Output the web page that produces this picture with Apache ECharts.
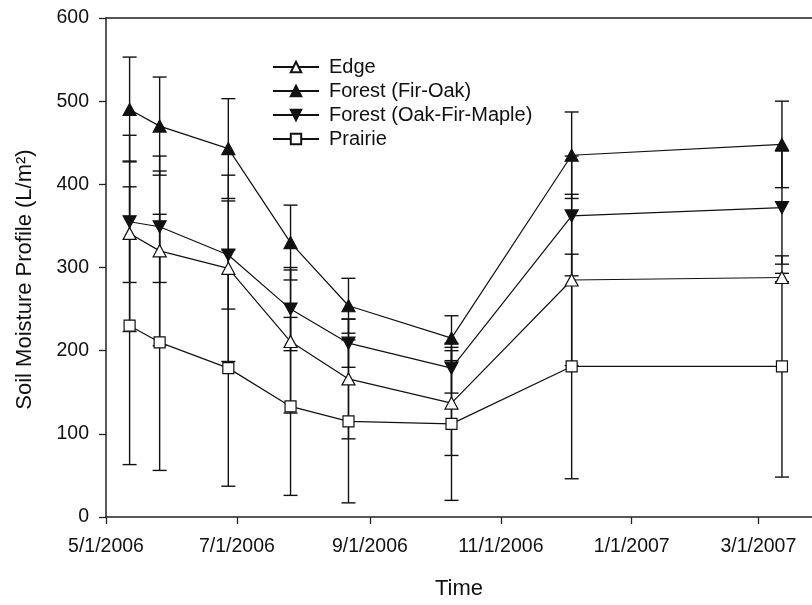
<!DOCTYPE html>
<html>
<head>
<meta charset="utf-8">
<script src="https://cdn.jsdelivr.net/npm/echarts@6/dist/echarts.min.js"></script>
<style>
  html, body { margin: 0; padding: 0; background: #fff; overflow: hidden; }
  #chart { width: 812px; height: 605px; }
</style>
</head>
<body>
<div id="chart"></div>
<script>
// Sampling dates
const sampleDates = ['2006-05-12', '2006-05-26', '2006-06-27', '2006-07-26',
                     '2006-08-22', '2006-10-09', '2006-12-04', '2007-03-12'];

// Mean soil moisture profile (L/m2) and standard deviations per stand type
const edgeMean       = [341, 320, 299, 211, 166, 137, 285, 288];
const edgeSd         = [118, 114, 112,  86,  72,  63, 103,   5];
const firOakMean     = [490, 470, 443, 330, 254, 215, 435, 448];
const firOakSd       = [ 63,  59,  60,  45,  33,  27,  52,  52];
const oakFirMapleMean = [355, 349, 315, 250, 209, 179, 362, 372];
const oakFirMapleSd   = [ 73,  67,  65,  50,  29,  30,  72,  68];
const prairieMean    = [230, 210, 179, 133, 115, 112, 181, 181];
const prairieSd      = [167, 154, 142, 107,  98,  92, 135, 133];

// Axis ticks
const xTickDates = ['2006-05-01', '2006-07-01', '2006-09-01', '2006-11-01', '2007-01-01', '2007-03-01'];
const xRange = ['2006-05-01', '2007-03-26'];
const yTicks = [0, 100, 200, 300, 400, 500, 600];

const seriesNames = ['Edge', 'Forest (Fir-Oak)', 'Forest (Oak-Fir-Maple)', 'Prairie'];

function toTime(s) {
  const p = s.split('-').map(Number);
  return new Date(p[0], p[1] - 1, p[2]).getTime();
}
function fmtDate(t) {
  const d = new Date(t);
  return (d.getMonth() + 1) + '/' + d.getDate() + '/' + d.getFullYear();
}

const times = sampleDates.map(toTime);
const tickTimes = xTickDates.map(toTime);

function pairs(vals) { return vals.map((v, i) => [times[i], v]); }
function errData(vals, sds) { return vals.map((v, i) => [times[i], v - sds[i], v + sds[i]]); }

const FONT = 'Liberation Sans, Arial, sans-serif';
const INK = '#111';

function errorBars(name, vals, sds) {
  return {
    type: 'custom',
    name: name + ' sd',
    z: 1,
    silent: true,
    data: errData(vals, sds),
    encode: { x: 0, y: [1, 2] },
    renderItem: function (params, api) {
      const lo = api.coord([api.value(0), api.value(1)]);
      const hi = api.coord([api.value(0), api.value(2)]);
      const hw = 7;
      const st = { stroke: INK, lineWidth: 1.4, fill: null };
      return {
        type: 'group',
        children: [
          { type: 'line', shape: { x1: lo[0], y1: lo[1], x2: hi[0], y2: hi[1] }, style: st },
          { type: 'line', shape: { x1: lo[0] - hw, y1: lo[1], x2: lo[0] + hw, y2: lo[1] }, style: st },
          { type: 'line', shape: { x1: hi[0] - hw, y1: hi[1], x2: hi[0] + hw, y2: hi[1] }, style: st }
        ]
      };
    }
  };
}

function lineSeries(name, vals, symbol, size, fill) {
  return {
    type: 'line',
    name: name,
    z: 3,
    data: pairs(vals),
    symbol: symbol,
    symbolSize: size,
    showAllSymbol: true,
    lineStyle: { color: INK, width: 1.2 },
    itemStyle: { color: fill, borderColor: INK, borderWidth: 1.2 },
    emphasis: { disabled: true },
    animation: false
  };
}

const downTriangle = 'path://M0,0 L12,0 L6,11 Z';

const chart = echarts.init(document.getElementById('chart'), null, { renderer: 'canvas', width: 812, height: 605 });
chart.setOption({
  animation: false,
  backgroundColor: '#fff',
  grid: { left: 106, width: 706, top: 18, height: 502, containLabel: false },
  legend: {
    orient: 'vertical',
    left: 267,
    top: 52,
    itemWidth: 46,
    itemHeight: 13,
    itemGap: 4,
    data: seriesNames,
    textStyle: { fontFamily: FONT, fontSize: 20, color: INK, padding: [0, 0, 0, 5] },
    inactiveColor: INK
  },
  xAxis: [{
    type: 'value',
    min: toTime(xRange[0]),
    max: toTime(xRange[1]),
    name: 'Time',
    nameLocation: 'middle',
    nameGap: 61,
    nameTextStyle: { fontFamily: FONT, fontSize: 22, color: INK },
    axisLine: { show: true, lineStyle: { color: '#222', width: 1.5 } },
    axisTick: { show: true, length: 7, customValues: tickTimes, lineStyle: { color: '#222', width: 1.3 } },
    axisLabel: {
      customValues: tickTimes,
      formatter: function (v) { return fmtDate(v); },
      fontFamily: FONT, fontSize: 19.5, color: INK, margin: 20
    },
    splitLine: { show: false }
  }, {
    type: 'value',
    position: 'top',
    min: toTime(xRange[0]),
    max: toTime(xRange[1]),
    axisLine: { show: true, lineStyle: { color: '#222', width: 1.5 } },
    axisTick: { show: false },
    axisLabel: { show: false },
    splitLine: { show: false }
  }],
  yAxis: {
    type: 'value',
    min: yTicks[0],
    max: yTicks[yTicks.length - 1],
    interval: yTicks[1] - yTicks[0],
    name: 'Soil Moisture Profile (L/m²)',
    nameLocation: 'middle',
    nameGap: 70,
    nameTextStyle: { fontFamily: FONT, fontSize: 22, color: INK, padding: [0, 24, 0, 0] },
    axisLine: { show: true, lineStyle: { color: '#222', width: 1.5 } },
    axisTick: { show: true, length: 7, lineStyle: { color: '#222', width: 1.3 } },
    axisLabel: { fontFamily: FONT, fontSize: 19.5, color: INK, margin: 17 },
    splitLine: { show: false }
  },
  series: [
    errorBars('Prairie', prairieMean, prairieSd),
    errorBars('Edge', edgeMean, edgeSd),
    errorBars('Forest (Oak-Fir-Maple)', oakFirMapleMean, oakFirMapleSd),
    errorBars('Forest (Fir-Oak)', firOakMean, firOakSd),
    lineSeries('Edge', edgeMean, 'triangle', [13, 12], '#fff'),
    lineSeries('Forest (Fir-Oak)', firOakMean, 'triangle', [13, 12], INK),
    lineSeries('Forest (Oak-Fir-Maple)', oakFirMapleMean, downTriangle, [13, 12], INK),
    lineSeries('Prairie', prairieMean, 'rect', 11, '#fff')
  ]
});
</script>
</body>
</html>
